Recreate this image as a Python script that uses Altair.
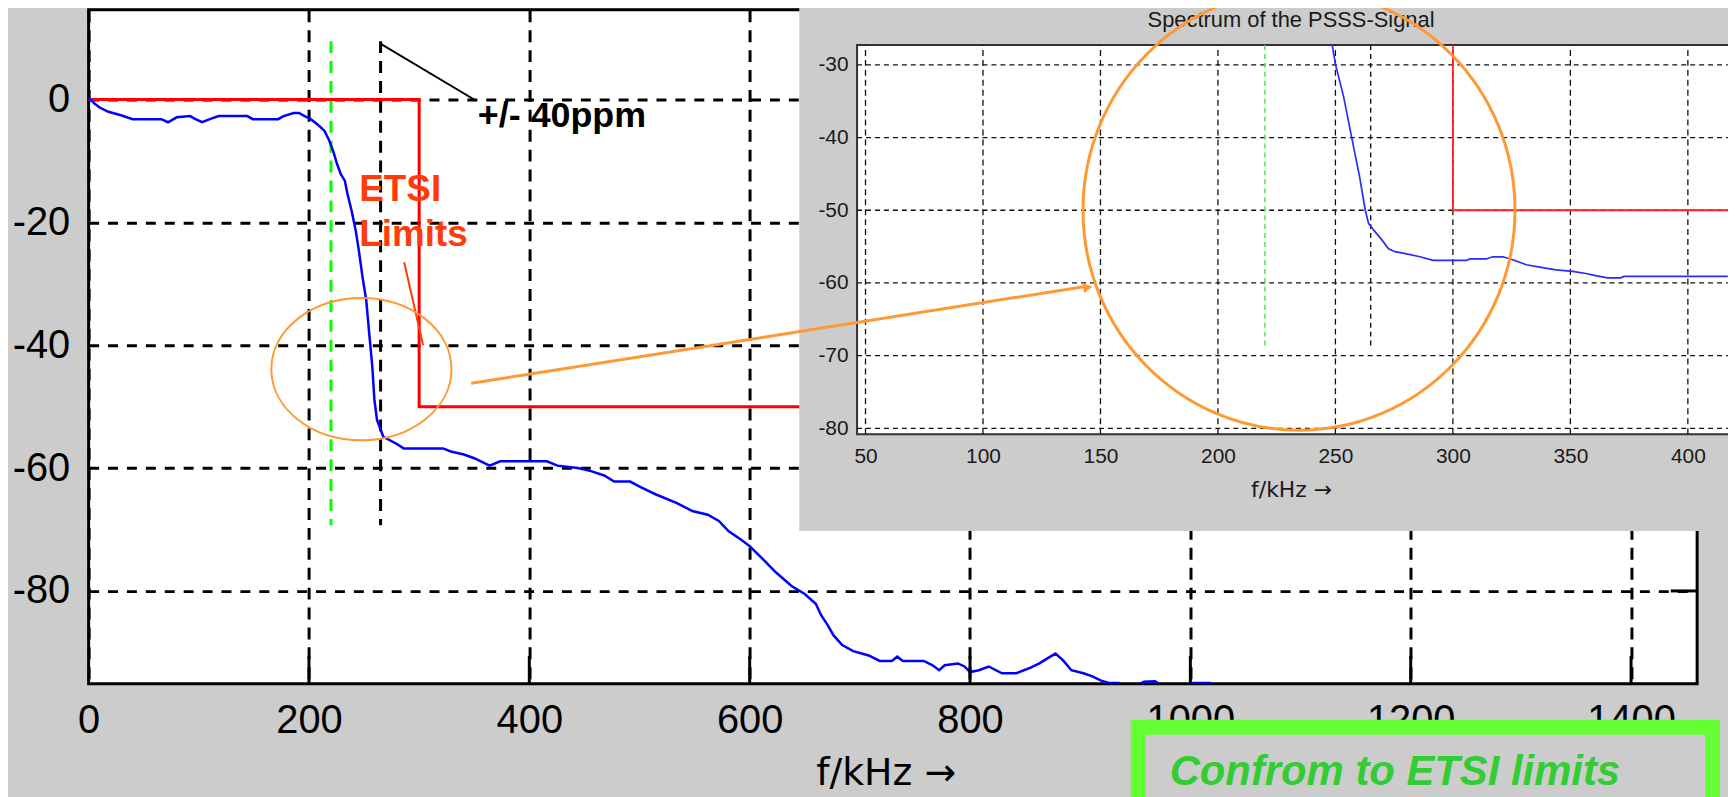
import altair as alt
import pandas as pd

# ---------------- data ----------------
main_f = [0, 5, 10, 18, 30, 40, 66, 72, 80, 92, 97, 103, 110, 118, 144, 149, 172, 177, 186, 191,
          196, 201, 208, 214, 218, 222, 225.5, 229, 232.5, 235, 238.7, 242.5, 245.3, 248.6, 252,
          254.7, 257.5, 259.4, 261.8, 267.5, 279, 286, 321.7, 328.8, 340.6, 350, 364, 373.6, 416,
          425.5, 444, 456, 468, 477, 491.5, 501, 515, 534, 548, 562, 572, 581, 591, 600, 609, 624,
          638, 650, 660, 665, 671, 676, 684, 694, 708, 718, 729, 734, 739, 758, 766, 772, 777, 789,
          795, 800, 808, 817, 829, 842, 855, 863, 871, 877.6, 884.5, 892, 903, 911, 919, 927, 935,
          942, 950, 958, 968, 973, 985, 1000, 1018, 1025, 1040]
main_db = [0.3, -0.6, -1.3, -2.0, -2.6, -3.2, -3.2, -3.7, -2.9, -2.7, -3.2, -3.7, -3.2, -2.7, -2.7,
           -3.2, -3.2, -2.7, -2.2, -2.2, -2.7, -3.1, -4.1, -5.1, -6.5, -8.4, -10.5, -12.2, -13.2,
           -15.4, -18.1, -21.4, -24.6, -28.9, -32.7, -38.1, -43.5, -48.9, -52.2, -54.9, -56.0,
           -56.8, -56.8, -57.3, -57.8, -58.4, -59.6, -58.9, -58.9, -59.6, -60.0, -60.5, -61.2,
           -62.2, -62.2, -63.1, -64.3, -65.7, -67.0, -67.6, -68.6, -70.3, -71.5, -72.7, -74.3,
           -77.0, -79.2, -80.5, -82.1, -84.0, -85.6, -87.2, -88.8, -89.8, -90.5, -91.4, -91.4,
           -90.7, -91.4, -91.4, -92.1, -92.9, -92.1, -91.8, -92.3, -93.2, -92.9, -92.3, -93.4,
           -93.4, -92.5, -91.8, -90.9, -90.2, -91.3, -92.9, -93.4, -93.9, -94.6, -95.0, -95.0,
           -96.5, -95.5, -94.8, -94.7, -95.3, -96.5, -95.0, -95.0, -96.5, -98.0]

inset_f = [248.6, 250, 253.5, 257, 260.3, 262.7, 264.1, 266.2, 269.1, 272.6, 275.4, 280.3, 286,
           291.6, 305.7, 307.2, 314.2, 317, 321.3, 325.5, 331.2, 338.2, 343.9, 351, 356.6, 360.8,
           365.8, 371.4, 372.8, 417]
inset_db = [-27.2, -29.9, -34.4, -40.1, -45.4, -50.0, -51.8, -52.7, -53.8, -55.3, -55.7, -56.0,
            -56.4, -56.9, -56.9, -56.7, -56.7, -56.4, -56.4, -56.8, -57.5, -57.9, -58.2, -58.4,
            -58.7, -59.0, -59.3, -59.3, -59.1, -59.1]

limit_f = [0, 300, 300, 1460]
limit_db = [0, 0, -50, -50]
inset_limit_f = [300, 300, 417]
inset_limit_db = [-27.26, -50, -50]

green_marker_f = [220]
black_marker_f = [265]
marker_top_db = [9.5]
marker_bottom_db = [-69.3]
inset_marker_top_db = [-27.26]
inset_marker_bottom_db = [-69.0]

main_xticks = [0, 200, 400, 600, 800, 1000, 1200, 1400]
main_yticks = [-80, -60, -40, -20, 0]
inset_xticks = [50, 100, 150, 200, 250, 300, 350, 400]
inset_yticks = [-80, -70, -60, -50, -40, -30]

FONT = "Liberation Sans"
TITLE_FONT = "DejaVu Sans"
ORANGE = "#FF9933"
ETSI_RED = "#FF3B0A"

# ---------------- scales ----------------
MX = alt.Scale(domain=[0, 1460], nice=False, zero=False)
MY = alt.Scale(domain=[-95.1, 14.6], nice=False, zero=False)
IX = alt.Scale(domain=[46.4, 417], range=[772, 1646.8], nice=False, zero=False)
IY = alt.Scale(domain=[-80.8, -27.26], range=[426.3, 35.3], nice=False, zero=False)

main_x_axis = alt.Axis(values=main_xticks, grid=True, gridColor="black", gridDash=[12, 8],
                       gridWidth=3, domain=False, ticks=False, labelFont=FONT, labelFontSize=40,
                       labelColor="black", labelPadding=17, labelExpr="'' + datum.value",
                       labelFlush=False,
                       title="f/kHz →", titleFont=TITLE_FONT, titleFontSize=38,
                       titleFontWeight="normal",
                       titleColor="black", titleX=800.7, titleY=101, titleBaseline="alphabetic",
                       titleAlign="center", orient="bottom", zindex=0)
main_y_axis = alt.Axis(values=main_yticks, grid=True, gridColor="black", gridDash=[10, 9],
                       gridWidth=3, domain=False, ticks=False, labelFont=FONT, labelFontSize=40,
                       labelColor="black", labelPadding=19, labelExpr="'' + datum.value",
                       labelFlush=False, title=None, orient="left", zindex=0)
inset_x_axis = alt.Axis(values=inset_xticks, grid=False, domain=False, ticks=False, orient="bottom",
                        offset=-250.7, labelFont=FONT, labelFontSize=21, labelColor="#1a1a1a",
                        labelPadding=11, labelExpr="'' + datum.value", labelFlush=False,
                        title="f/kHz →",
                        titleFont=TITLE_FONT, titleFontSize=22, titleFontWeight="normal",
                        titleColor="#1a1a1a", titleX=1208, titleY=62.4,
                        titleBaseline="alphabetic", titleAlign="center", zindex=1)
inset_y_axis = alt.Axis(values=inset_yticks, grid=False, domain=False, ticks=False, orient="left",
                        offset=-772, labelFont=FONT, labelFontSize=21, labelColor="#1a1a1a",
                        labelPadding=9, labelExpr="'' + datum.value", labelFlush=False,
                        title=None, zindex=1)


def mk_enc(scx, scy, axx, axy):
    def enc(x, y, x2=None, y2=None):
        e = dict(x=alt.X(x, type="quantitative", scale=scx, axis=axx),
                 y=alt.Y(y, type="quantitative", scale=scy, axis=axy))
        if x2 is not None:
            e["x2"] = alt.X2(x2)
        if y2 is not None:
            e["y2"] = alt.Y2(y2)
        return e
    return enc


menc = mk_enc(MX, MY, main_x_axis, main_y_axis)
ienc = mk_enc(IX, IY, inset_x_axis, inset_y_axis)
oenc = mk_enc(MX, MY, None, None)


def ellipse_path(r):
    k = 0.5523
    return (f"M -1 0 C -1 {-k*r:.4f} {-k:.4f} {-r:.4f} 0 {-r:.4f} "
            f"C {k:.4f} {-r:.4f} 1 {-k*r:.4f} 1 0 "
            f"C 1 {k*r:.4f} {k:.4f} {r:.4f} 0 {r:.4f} "
            f"C {-k:.4f} {r:.4f} -1 {k*r:.4f} -1 0 Z")


# ---------------- main plot ----------------
limit_df = pd.DataFrame({"f": limit_f, "db": limit_db, "i": range(len(limit_f))})
limit_main = alt.Chart(limit_df).mark_line(color="#FF0000", strokeWidth=3).encode(
    **menc("f", "db"), order=alt.Order("i:Q"))

bottom_ticks = alt.Chart(pd.DataFrame({"f": main_xticks[1:], "a": [-95.1] * 7, "b": [-90.6] * 7})
                         ).mark_rule(color="black", strokeWidth=3).encode(**menc("f", "a", y2="b"))
right_ticks = alt.Chart(pd.DataFrame({"db": main_yticks, "a": [1460] * 5, "b": [1436] * 5})
                        ).mark_rule(color="black", strokeWidth=3).encode(**menc("a", "db", x2="b"))

green_main = alt.Chart(pd.DataFrame({"f": green_marker_f, "t": marker_top_db, "b": marker_bottom_db})
                       ).mark_rule(color="#00FF00", strokeWidth=3, strokeDash=[12, 8]).encode(
    **menc("f", "t", y2="b"))
black_main = alt.Chart(pd.DataFrame({"f": black_marker_f, "t": marker_top_db, "b": marker_bottom_db})
                       ).mark_rule(color="black", strokeWidth=3, strokeDash=[12, 8]).encode(
    **menc("f", "t", y2="b"))

curve_main = alt.Chart(pd.DataFrame({"f": main_f, "db": main_db})).mark_line(
    color="#0000FF", strokeWidth=2.5, clip=True).encode(**menc("f", "db"))

ppm_line = alt.Chart(pd.DataFrame({"f1": [264.4], "d1": [9.14], "f2": [351.8], "d2": [-0.2]})
                     ).mark_rule(color="black", strokeWidth=2).encode(
    **menc("f1", "d1", x2="f2", y2="d2"))
ppm_text = alt.Chart(pd.DataFrame({"f": [353.3], "db": [-4.5], "t": ["+/- 40ppm"]})).mark_text(
    align="left", baseline="alphabetic", font=FONT, fontSize=36, fontWeight="bold", color="black"
).encode(**menc("f", "db"), text="t:N")

etsi_text = alt.Chart(pd.DataFrame({"f": [245.7, 245.7], "db": [-16.5, -23.8], "t": ["ETSI", "Limits"]})
                      ).mark_text(align="left", baseline="alphabetic", font=FONT, fontSize=37,
                                  fontWeight="bold", color=ETSI_RED).encode(
    **menc("f", "db"), text="t:N")
etsi_line = alt.Chart(pd.DataFrame({"f1": [286.4], "d1": [-26.5], "f2": [303.6], "d2": [-40.0]})
                      ).mark_rule(color=ETSI_RED, strokeWidth=2).encode(
    **menc("f1", "d1", x2="f2", y2="d2"))

ellipse_main = alt.Chart(pd.DataFrame({"f": [247.6], "db": [-43.9]})).mark_point(
    shape=ellipse_path(0.79), size=181 * 181, filled=False, stroke=ORANGE, strokeWidth=2,
    opacity=1).encode(**menc("f", "db"))

green_box = alt.Chart(pd.DataFrame({"f1": [952.7], "f2": [1474], "d1": [-102.2], "d2": [-116]})
                      ).mark_rect(fill="#CCCCCC", stroke="#66FF33", strokeWidth=15).encode(
    **menc("f1", "d1", x2="f2", y2="d2"))
green_text = alt.Chart(pd.DataFrame({"f": [981.2], "db": [-111.6], "t": ["Confrom to ETSI limits"]})
                       ).mark_text(align="left", baseline="alphabetic", font=FONT, fontSize=42,
                                   fontWeight="bold", fontStyle="italic", color="#33CC33").encode(
    **menc("f", "db"), text="t:N")

main_group = alt.layer(limit_main, green_main, black_main, curve_main, bottom_ticks, right_ticks,
                       ppm_line, ppm_text, etsi_text, etsi_line, ellipse_main, green_box, green_text)

# ---------------- inset ----------------
inset_panel = alt.Chart(pd.DataFrame({"f1": [21.8], "f2": [425], "d1": [-94.14], "d2": [-19]})
                        ).mark_rect(fill="#CCCCCC").encode(**ienc("f1", "d1", x2="f2", y2="d2"))
inset_plot = alt.Chart(pd.DataFrame({"f1": [46.4], "f2": [425], "d1": [-80.8], "d2": [-27.26]})
                       ).mark_rect(fill="white", stroke="#333333", strokeWidth=2).encode(
    **ienc("f1", "d1", x2="f2", y2="d2"))
inset_vgrid = alt.Chart(pd.DataFrame({"f": inset_xticks, "a": [-80.8] * 8, "b": [-27.26] * 8})
                        ).mark_rule(color="#111111", strokeWidth=1.3, strokeDash=[6, 4]).encode(
    **ienc("f", "a", y2="b"))
inset_hgrid = alt.Chart(pd.DataFrame({"db": inset_yticks, "a": [46.4] * 6, "b": [417] * 6})
                        ).mark_rule(color="#111111", strokeWidth=1.3, strokeDash=[5, 4]).encode(
    **ienc("a", "db", x2="b"))
inset_green = alt.Chart(pd.DataFrame({"f": green_marker_f, "t": inset_marker_top_db,
                                      "b": inset_marker_bottom_db})).mark_rule(
    color="#33EE33", strokeWidth=1.4, strokeDash=[5, 4]).encode(**ienc("f", "t", y2="b"))
inset_black = alt.Chart(pd.DataFrame({"f": black_marker_f, "t": inset_marker_top_db,
                                      "b": inset_marker_bottom_db})).mark_rule(
    color="#111111", strokeWidth=1.4, strokeDash=[5, 4]).encode(**ienc("f", "t", y2="b"))
inset_limit = alt.Chart(pd.DataFrame({"f": inset_limit_f, "db": inset_limit_db,
                                      "i": range(len(inset_limit_f))})).mark_line(
    color="#FF2222", strokeWidth=1.8).encode(**ienc("f", "db"), order=alt.Order("i:Q"))
inset_curve = alt.Chart(pd.DataFrame({"f": inset_f, "db": inset_db})).mark_line(
    color="#2B2BFF", strokeWidth=1.7).encode(**ienc("f", "db"))
inset_title = alt.Chart(pd.DataFrame({"f": [231.1], "db": [-24.8], "t": ["Spectrum of the PSSS-Signal"]})
                        ).mark_text(align="center", baseline="alphabetic", font=FONT, fontSize=22,
                                    color="#1a1a1a").encode(**ienc("f", "db"), text="t:N")
inset_ellipse = alt.Chart(pd.DataFrame({"f": [234.5], "db": [-50.0]})).mark_point(
    shape=ellipse_path(1.018), size=434 * 434, filled=False, stroke=ORANGE, strokeWidth=3,
    opacity=1).encode(**ienc("f", "db"))

inset_group = alt.layer(inset_panel, inset_plot, inset_vgrid, inset_hgrid, inset_green,
                        inset_black, inset_limit, inset_curve, inset_title, inset_ellipse)

# ---------------- overlay (arrow from main ellipse into inset) ----------------
arrow_line = alt.Chart(pd.DataFrame({"f1": [347.2], "d1": [-46.2], "f2": [906.0], "d2": [-30.4]})
                       ).mark_rule(color=ORANGE, strokeWidth=3).encode(
    **oenc("f1", "d1", x2="f2", y2="d2"))
arrow_head = alt.Chart(pd.DataFrame({"f": [907.0], "db": [-30.6]})).mark_point(
    shape="triangle-right", angle=351.5, size=110, filled=True, color=ORANGE, opacity=1).encode(
    **oenc("f", "db"))
overlay_group = alt.layer(arrow_line, arrow_head)

chart = alt.layer(main_group, inset_group, overlay_group).resolve_scale(
    x="independent", y="independent"
).properties(
    width=1616, height=677,
    padding={"left": 81, "top": 0, "right": 31, "bottom": 112},
    autosize=alt.AutoSizeParams(type="none"),
    background="#CCCCCC",
).configure_view(fill="white", stroke="black", strokeWidth=3)

chart.save("out.html", embed_options={"renderer": "svg", "actions": False})
